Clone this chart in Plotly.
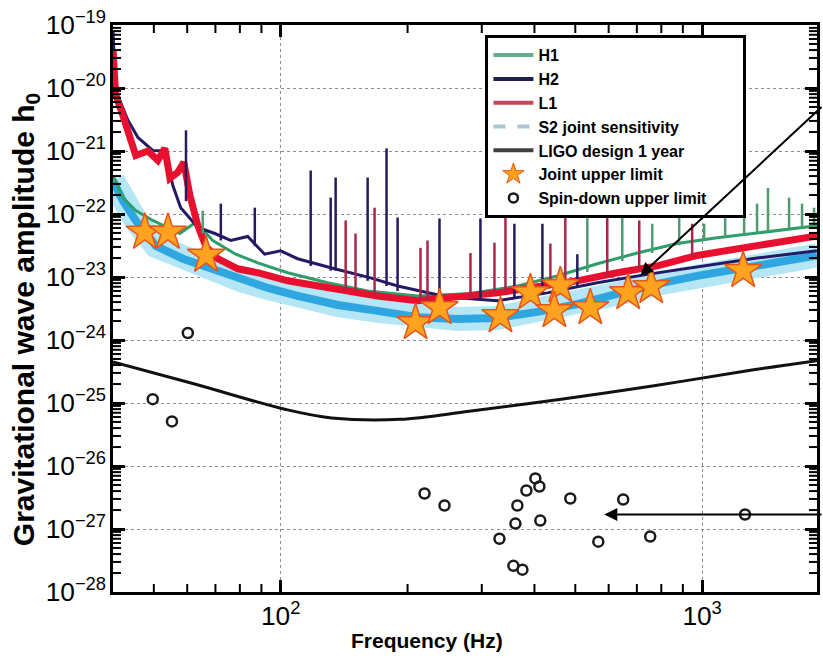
import numpy as np
import plotly.graph_objects as go

# ---------------- data ----------------
# LIGO design sensitivity, 1 year
design_f = [40, 62.5, 102.8, 132, 192, 280, 463, 762, 1259, 1873]
design_h = [4.5e-25, 2.0e-25, 7.9e-26, 5.8e-26, 5.5e-26, 7.4e-26, 1.15e-25, 1.86e-25, 3.2e-25, 4.7e-25]

# Joint upper limits (stars)
star_f = [47.6, 54.0, 66.5, 208.9, 238.2, 332.2, 391.3, 460.8, 446.0, 542.7, 667.6, 757.0, 1251]
star_h = [5.1e-23, 5.1e-23, 2.2e-23, 1.87e-24, 3.24e-24, 2.41e-24, 5.6e-24, 7.24e-24, 2.9e-24,
          3.24e-24, 5.6e-24, 6.98e-24, 1.26e-23]

# Spin-down upper limits (circles)
sd_f = [60.2, 49.7, 55.2, 219.4, 244.7, 402, 411, 382.8, 364.4, 360.5, 413, 330.4, 356.6, 374.6,
        486.6, 567, 649.7, 753, 1264]
sd_h = [1.29e-24, 1.15e-25, 5.1e-26, 3.66e-27, 2.36e-27, 6.35e-27, 4.73e-27, 4.08e-27, 2.36e-27,
        1.22e-27, 1.36e-27, 7.0e-28, 2.6e-28, 2.26e-28, 3.05e-27, 6.3e-28, 2.94e-27, 7.6e-28, 1.7e-27]

# L1 noise curve
l1_f = [40, 40.6, 42.2, 45.3, 48.4, 51.1, 53.1, 54.6, 57.0, 58.9, 60.9, 63.6, 66.4, 70.9, 79.1, 88.2,
        103.9, 122.4, 144.1, 169.8, 211.2, 262.7, 326.8, 406.4, 505.6, 628.9, 782.4, 973.2, 1210, 1506, 1873]
l1_h = [4e-20, 7.7e-21, 3.7e-21, 8.5e-22, 1.0e-21, 7.1e-22, 1.1e-21, 3.7e-22, 4.6e-22, 6.6e-22, 1.96e-22,
        6.5e-23, 3.1e-23, 1.95e-23, 1.35e-23, 1.17e-23, 8.7e-24, 7.2e-24, 6.0e-24, 5.0e-24, 4.2e-24,
        4.8e-24, 5.6e-24, 7.0e-24, 8.7e-24, 1.17e-23, 1.5e-23, 2.2e-23, 2.8e-23, 3.6e-23, 4.5e-23]

# H1 noise curve
h1_f = [40, 42.2, 45.3, 49.7, 57.6, 62.9, 69.0, 78.2, 88.2, 103.9, 129.2, 160.8, 211.2, 277.4, 364.4,
        453.3, 563.9, 701.5, 872.6, 1085, 1350, 1680, 1873]
h1_h = [4.1e-22, 1.82e-22, 1.13e-22, 7.9e-23, 4.9e-23, 7.4e-23, 3.8e-23, 2.3e-23, 1.68e-23, 1.17e-23,
        8.1e-24, 6.0e-24, 5.0e-24, 5.4e-24, 7.2e-24, 1.04e-23, 1.62e-23, 2.4e-23, 3.4e-23, 4.2e-23,
        5.0e-23, 5.9e-23, 6.5e-23]

# H2 noise curve
h2_f = [40, 40.6, 43.4, 45.8, 49.7, 53.1, 55.5, 57.9, 63.6, 69.8, 76.1, 83.5, 91.6, 100, 109.7, 131.4,
        163.4, 189.4, 248.7, 326.8, 429.2, 563.9, 740.7, 973.2, 1350, 1873]
h2_h = [8e-20, 9.2e-21, 3.07e-21, 1.65e-21, 1.02e-21, 1.0e-21, 2.8e-22, 1.26e-22, 6.1e-23, 4.9e-23,
        3.8e-23, 4.4e-23, 2.3e-23, 2.6e-23, 1.95e-23, 1.4e-23, 9.7e-24, 7.2e-24, 4.8e-24, 4.2e-24,
        5.6e-24, 8.1e-24, 1.1e-23, 1.45e-23, 2.0e-23, 2.6e-23]

# S2 joint sensitivity
s2_f = [40, 42.2, 45.3, 50.6, 58.6, 69.0, 81.3, 93.2, 109.7, 136.5, 169.8, 211.2, 262.7, 326.8, 406.4,
        505.6, 628.9, 782.4, 973.2, 1210, 1506, 1873]
s2_h = [3.4e-22, 1.63e-22, 7.9e-23, 3.1e-23, 1.95e-23, 1.35e-23, 8.7e-24, 6.7e-24, 5.0e-24, 3.6e-24,
        2.9e-24, 2.3e-24, 2.16e-24, 2.24e-24, 2.8e-24, 3.7e-24, 5.4e-24, 7.8e-24, 1.04e-23, 1.35e-23,
        1.75e-23, 2.2e-23]

# spectral lines: frequency, bottom, top
h2_line_f = [59.6, 72.1, 86.8, 117.8, 131.4, 135.0, 160.8, 178.3, 189.4, 238.1, 297.8, 358.5, 417.8, 505.6]
h2_line_lo = [1.6e-22, 3.8e-23, 3.1e-23, 1.5e-23, 1.26e-23, 1.26e-23, 8.7e-24, 7.2e-24, 6.0e-24, 5.0e-24,
              4.7e-24, 4.7e-24, 5.6e-24, 7.2e-24]
h2_line_hi = [2.13e-21, 1.46e-22, 1.26e-22, 4.9e-22, 1.82e-22, 3.8e-22, 3.8e-22, 1.1e-21, 8.8e-23, 8.5e-23,
              8.5e-23, 7.0e-23, 7.0e-23, 2.3e-23]

l1_line_f = [142.6, 150.5, 167.0, 214.6, 223.0, 282.0, 321.5, 341.4, 436.4, 473.5, 595.5, 709.1, 947.0]
l1_line_lo = [6.0e-24, 6.0e-24, 5.0e-24, 4.2e-24, 4.2e-24, 4.8e-24, 5.6e-24, 5.6e-24, 7.0e-24, 7.6e-24,
              1.0e-23, 1.3e-23, 2.2e-23]
l1_line_hi = [7.9e-23, 4.9e-23, 1.26e-22, 2.9e-23, 3.8e-23, 2.4e-23, 3.5e-23, 1.26e-22, 3.4e-23, 8.8e-23,
              1.13e-22, 7.9e-23, 7.0e-23]

h1_line_f = [65.3, 534.0, 646.3, 761.3, 882.2, 1011, 1134, 1258, 1350, 1433, 1608, 1726, 1843]
h1_line_lo = [4.9e-23, 1.2e-23, 1.8e-23, 2.4e-23, 3.2e-23, 3.8e-23, 4.2e-23, 4.8e-23, 5.0e-23, 5.2e-23,
              5.8e-23, 6.0e-23, 6.4e-23]
h1_line_hi = [1.13e-22, 1.26e-22, 8.8e-23, 7.0e-23, 1.26e-22, 7.0e-23, 1.36e-22, 1.13e-22, 1.46e-22,
              2.6e-22, 1.82e-22, 1.46e-22, 1.26e-22]

# arrow targets
arrow_f = [713, 586]
arrow_h = [1.05e-23, 1.7e-27]

legend_names = ["H1", "H2", "L1", "S2 joint sensitivity", "LIGO design 1 year",
                "Joint upper limit", "Spin-down upper limit"]

x_lo, x_hi = 40, 1873
y_lo_exp, y_hi_exp = -28, -19


def segments(fs, lo, hi):
    xs, ys = [], []
    for f, a, b in zip(fs, lo, hi):
        xs += [f, f, None]
        ys += [a, b, None]
    return xs, ys


fig = go.Figure()

# S2 joint sensitivity band (halo + core)
fig.add_trace(go.Scatter(x=s2_f, y=s2_h, mode="lines", showlegend=False, hoverinfo="skip",
                         line=dict(color="#b5e6f6", width=24)))
fig.add_trace(go.Scatter(x=s2_f, y=s2_h, mode="lines", showlegend=False,
                         line=dict(color="#2fa6e0", width=8)))
# detectors
fig.add_trace(go.Scatter(x=h1_f, y=h1_h, mode="lines", showlegend=False,
                         line=dict(color="#2e9e6b", width=3)))
fig.add_trace(go.Scatter(x=h2_f, y=h2_h, mode="lines", showlegend=False,
                         line=dict(color="#231a66", width=3)))
fig.add_trace(go.Scatter(x=l1_f, y=l1_h, mode="lines", showlegend=False,
                         line=dict(color="#e8102e", width=7)))
# spectral lines
for fs, lo, hi, col in [(h1_line_f, h1_line_lo, h1_line_hi, "#4f9a6e"),
                        (l1_line_f, l1_line_lo, l1_line_hi, "#a8284c"),
                        (h2_line_f, h2_line_lo, h2_line_hi, "#241c5e")]:
    xs, ys = segments(fs, lo, hi)
    fig.add_trace(go.Scatter(x=xs, y=ys, mode="lines", showlegend=False, hoverinfo="skip",
                             line=dict(color=col, width=2.5)))

# design curve
fig.add_trace(go.Scatter(x=design_f, y=design_h, mode="lines", showlegend=False,
                         line=dict(color="#111111", width=3, shape="spline")))
# upper limits
fig.add_trace(go.Scatter(x=star_f, y=star_h, mode="markers", showlegend=False,
                         marker=dict(symbol="star", size=28, color="#ffa21f",
                                     line=dict(color="#e4561a", width=1.5))))
fig.add_trace(go.Scatter(x=sd_f, y=sd_h, mode="markers", showlegend=False,
                         marker=dict(symbol="circle-open", size=10, color="#1a1a1a",
                                     line=dict(width=2.5, color="#1a1a1a"))))

# legend entries
leg_styles = [
    dict(mode="lines", line=dict(color="#5faf88", width=4)),
    dict(mode="lines", line=dict(color="#1f2050", width=4)),
    dict(mode="lines", line=dict(color="#c04a5a", width=4)),
    dict(mode="lines", line=dict(color="#a8c8d4", width=4, dash="dash")),
    dict(mode="lines", line=dict(color="#404040", width=4)),
    dict(mode="markers", marker=dict(symbol="star", size=26, color="#ffa21f",
                                     line=dict(color="#e4561a", width=1))),
    dict(mode="markers", marker=dict(symbol="circle-open", size=9, color="#1a1a1a",
                                     line=dict(width=2.5, color="#1a1a1a"))),
]
for i, (name, st) in enumerate(zip(legend_names, leg_styles)):
    label = "<b>" + name + "</b>"
    if i == len(legend_names) - 1:
        label += "&nbsp;" * 7
    fig.add_trace(go.Scatter(x=[None], y=[None], name=label, showlegend=True, **st))

axis_common = dict(
    type="log", dtick=1, exponentformat="power", showline=True, linecolor="black", linewidth=2.5,
    mirror="allticks", ticks="inside", ticklen=12, tickwidth=2.5, tickcolor="black",
    showgrid=True, gridcolor="#8c8c8c", griddash="dot", gridwidth=1, zeroline=False,
    tickfont=dict(size=21, color="black", family="Liberation Sans"),
)

# minor (log) ticks drawn as pixel-sized shapes on all four sides
shapes = []
tick_line = dict(color="black", width=2)
tick_len = 8
for n in range(1, 4):
    for k in range(2, 10):
        v = k * 10 ** n
        if x_lo < v < x_hi:
            shapes.append(dict(type="line", xref="x", yref="paper", ysizemode="pixel", yanchor=0,
                               x0=v, x1=v, y0=0, y1=tick_len, line=tick_line, layer="above"))
            shapes.append(dict(type="line", xref="x", yref="paper", ysizemode="pixel", yanchor=1,
                               x0=v, x1=v, y0=0, y1=-tick_len, line=tick_line, layer="above"))
for n in range(y_lo_exp, y_hi_exp):
    for k in range(2, 10):
        v = k * 10.0 ** n
        shapes.append(dict(type="line", xref="paper", yref="y", xsizemode="pixel", xanchor=0,
                           x0=0, x1=tick_len, y0=v, y1=v, line=tick_line, layer="above"))
        shapes.append(dict(type="line", xref="paper", yref="y", xsizemode="pixel", xanchor=1,
                           x0=0, x1=-tick_len, y0=v, y1=v, line=tick_line, layer="above"))

annotations = [
    dict(text="<b>Frequency (Hz)</b>", xref="paper", yref="paper", x=0.4455, y=-0.085,
         xanchor="center", yanchor="middle", showarrow=False, font=dict(size=21)),
    dict(text="<b>Gravitational wave amplitude h<sub>0</sub></b>", xref="paper", yref="paper",
         x=-0.1245, y=0.48, xanchor="center", yanchor="middle", textangle=-90, showarrow=False,
         font=dict(size=30)),
]
arrow_offsets = [(185, -170), (240, 0)]
for f, h, (ax, ay) in zip(arrow_f, arrow_h, arrow_offsets):
    annotations.append(dict(x=np.log10(f), y=np.log10(h), xref="x", yref="y", ax=ax, ay=ay,
                            text="", showarrow=True, arrowhead=2, arrowsize=1.3, arrowwidth=2,
                            arrowcolor="black"))

fig.update_layout(
    width=823, height=660, margin=dict(l=113, r=3, t=25, b=68),
    plot_bgcolor="white", paper_bgcolor="white",
    font=dict(family="Liberation Sans", size=20, color="black"),
    xaxis=dict(range=[np.log10(x_lo), np.log10(x_hi)], **axis_common),
    yaxis=dict(range=[y_lo_exp, y_hi_exp], **axis_common),
    legend=dict(x=0.529, y=0.982, xanchor="left", yanchor="top", bgcolor="white",
                bordercolor="black", borderwidth=3, font=dict(size=16, color="black"),
                itemwidth=40, tracegroupgap=0),
    shapes=shapes,
    annotations=annotations,
)

fig.write_html("out.html")
